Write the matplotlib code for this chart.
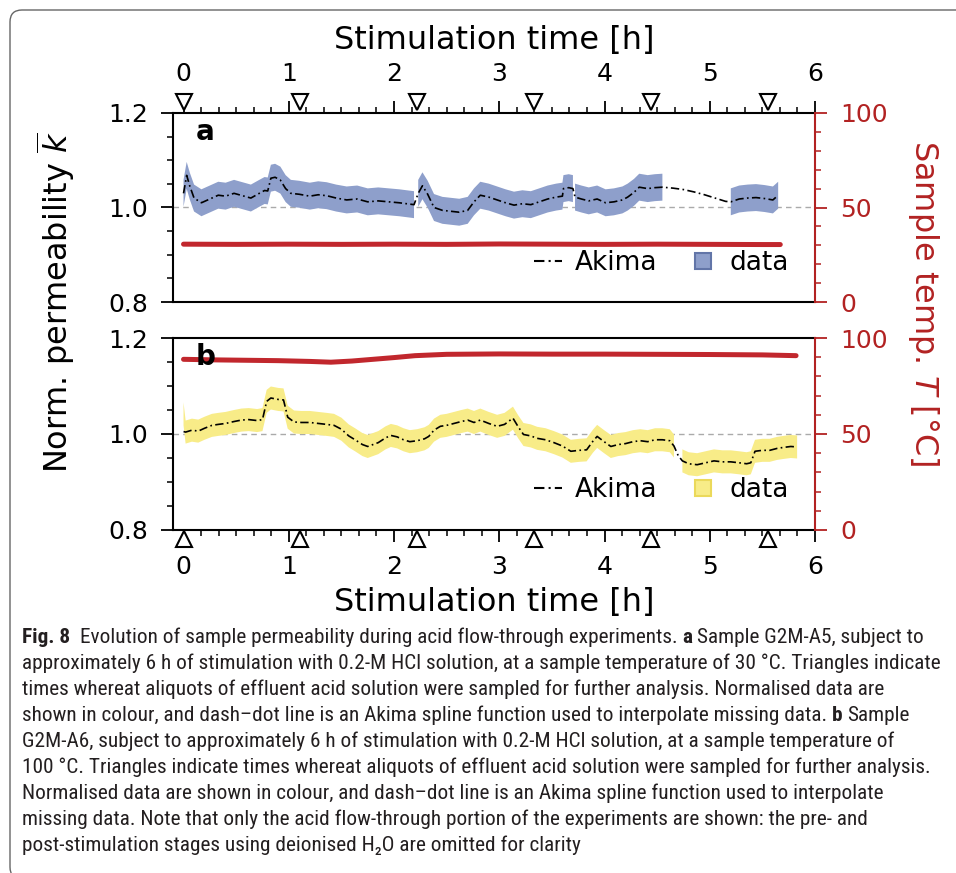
import numpy as np
import matplotlib
matplotlib.use("Agg")
import matplotlib.pyplot as plt
from matplotlib import font_manager
from matplotlib.patches import FancyBboxPatch
from matplotlib.transforms import IdentityTransform, blended_transform_factory
from matplotlib.lines import Line2D
from matplotlib.ticker import MultipleLocator, FormatStrFormatter

nan = np.nan

# --- datos -----------------------------------------------------------------
# panel a (G2M-A5, 30 C)
t_a = [0.00, 0.03, 0.06, 0.10, 0.17, 0.25, 0.33, 0.40, 0.48, 0.56, 0.64, 0.72,
       0.77, 0.80, 0.83, 0.87, 0.92, 0.97, 1.02, 1.10, 1.20, 1.28, 1.36, 1.45,
       1.55, 1.65, 1.75, 1.85, 1.95, 2.05, 2.12, 2.19, 2.21, 2.23, 2.27, 2.32,
       2.38, 2.46, 2.54, 2.62, 2.70, 2.76, 2.82, 2.90, 2.98, 3.06, 3.14, 3.22,
       3.30, 3.38, 3.46, 3.54, 3.60, 3.61, 3.66, 3.70, 3.71, 3.72, 3.78, 3.85,
       3.93, 4.01, 4.09, 4.17, 4.22, 4.28, 4.33, 4.41, 4.48, 4.55, 4.65, 4.75,
       4.85, 4.95, 5.05, 5.15, 5.20, 5.28, 5.36, 5.44, 5.52, 5.60, 5.65]
akima_a = [1.030, 1.068, 1.045, 1.020, 1.010, 1.018, 1.026, 1.024, 1.030, 1.025, 1.020, 1.030,
           1.036, 1.035, 1.062, 1.064, 1.058, 1.040, 1.030, 1.028, 1.024, 1.027, 1.025, 1.020,
           1.016, 1.018, 1.012, 1.014, 1.012, 1.010, 1.008, 1.006, 1.018, 1.030, 1.046, 1.028,
           1.000, 0.994, 0.992, 0.990, 0.994, 1.012, 1.026, 1.022, 1.016, 1.010, 1.005, 1.008,
           1.006, 1.012, 1.018, 1.022, 1.024, 1.040, 1.042, 1.040, 1.031, 1.022, 1.018, 1.014,
           1.018, 1.010, 1.012, 1.016, 1.022, 1.032, 1.043, 1.040, 1.042, 1.043, 1.041, 1.038,
           1.033, 1.027, 1.020, 1.013, 1.012, 1.018, 1.020, 1.021, 1.019, 1.016, 1.026]
data_a = [1.030, 1.068, 1.045, 1.020, 1.010, 1.018, 1.026, 1.024, 1.030, 1.025, 1.020, 1.030,
          1.036, 1.035, 1.062, 1.064, 1.058, 1.040, 1.030, 1.028, 1.024, 1.027, 1.025, 1.020,
          1.016, 1.018, 1.012, 1.014, 1.012, 1.010, 1.008, 1.006, nan, 1.030, 1.046, 1.028,
          1.000, 0.994, 0.992, 0.990, 0.994, 1.012, 1.026, 1.022, 1.016, 1.010, 1.005, 1.008,
          1.006, 1.012, 1.018, 1.022, 1.024, 1.040, 1.042, 1.040, nan, 1.022, 1.018, 1.014,
          1.018, 1.010, 1.012, 1.016, 1.022, 1.032, 1.043, 1.040, 1.042, 1.043, nan, nan,
          nan, nan, nan, nan, 1.012, 1.018, 1.020, 1.021, 1.019, 1.016, 1.026]
temp_t_a = [0.0, 0.5, 1.0, 1.5, 2.0, 2.5, 3.0, 3.5, 4.0, 4.5, 5.0, 5.5, 5.67]
temp_a = [30.6, 30.5, 30.6, 30.5, 30.6, 30.5, 30.7, 30.6, 30.5, 30.6, 30.5, 30.4, 30.4]

# panel b (G2M-A6, ~100 C)
t_b = [0.00, 0.02, 0.08, 0.14, 0.20, 0.27, 0.33, 0.40, 0.48, 0.55, 0.62, 0.70,
       0.75, 0.79, 0.83, 0.90, 0.95, 0.99, 1.05, 1.12, 1.20, 1.28, 1.36, 1.43,
       1.50, 1.57, 1.63, 1.70, 1.75, 1.80, 1.85, 1.92, 1.97, 2.03, 2.09, 2.15,
       2.22, 2.29, 2.33, 2.38, 2.44, 2.50, 2.57, 2.64, 2.70, 2.76, 2.82, 2.90,
       2.98, 3.05, 3.13, 3.18, 3.23, 3.30, 3.36, 3.44, 3.52, 3.60, 3.68, 3.76,
       3.83, 3.89, 3.93, 3.99, 4.06, 4.13, 4.20, 4.27, 4.34, 4.41, 4.48, 4.55,
       4.62, 4.66, 4.70, 4.74, 4.80, 4.88, 4.96, 5.04, 5.12, 5.20, 5.28, 5.35,
       5.39, 5.43, 5.50, 5.57, 5.64, 5.70, 5.77, 5.83]
akima_b = [1.005, 1.004, 1.008, 1.006, 1.012, 1.018, 1.020, 1.022, 1.026, 1.029, 1.030, 1.028,
           1.030, 1.068, 1.075, 1.072, 1.071, 1.035, 1.025, 1.024, 1.024, 1.022, 1.020, 1.018,
           1.010, 0.996, 0.988, 0.978, 0.974, 0.978, 0.982, 0.992, 0.997, 0.994, 0.988, 0.984,
           0.986, 0.990, 0.995, 1.008, 1.016, 1.018, 1.022, 1.026, 1.029, 1.024, 1.029, 1.022,
           1.016, 1.020, 1.033, 1.015, 0.999, 0.996, 0.991, 0.988, 0.982, 0.975, 0.964, 0.966,
           0.967, 0.985, 0.995, 0.985, 0.974, 0.978, 0.980, 0.984, 0.986, 0.984, 0.988, 0.988,
           0.986, 0.975, 0.955, 0.944, 0.938, 0.936, 0.940, 0.944, 0.942, 0.942, 0.940, 0.938,
           0.940, 0.964, 0.966, 0.966, 0.970, 0.972, 0.974, 0.973]
data_b = [1.042, 1.004, 1.008, 1.006, 1.012, 1.018, 1.020, 1.022, 1.026, 1.029, 1.030, 1.028,
          1.030, 1.068, 1.075, 1.072, 1.071, 1.035, 1.025, 1.024, 1.024, 1.022, 1.020, 1.018,
          1.010, 0.996, 0.988, 0.978, 0.974, 0.978, 0.982, 0.992, 0.997, 0.994, 0.988, 0.984,
          0.986, 0.990, 0.995, 1.008, 1.016, 1.018, 1.022, 1.026, 1.029, 1.024, 1.029, 1.022,
          1.016, 1.020, 1.033, 1.015, 0.999, 0.996, 0.991, 0.988, 0.982, 0.975, 0.964, 0.966,
          0.967, 0.985, 0.995, 0.985, 0.974, 0.978, 0.980, 0.984, 0.986, 0.984, 0.988, 0.988,
          0.986, 0.975, nan, 0.944, 0.938, 0.936, 0.940, 0.944, 0.942, 0.942, 0.940, 0.938,
          0.940, 0.964, 0.966, 0.966, 0.970, 0.972, 0.974, 0.973]
temp_t_b = [0.0, 0.3, 0.6, 0.9, 1.2, 1.4, 1.6, 1.8, 2.0, 2.2, 2.5, 3.0, 3.5, 4.0,
            4.5, 5.0, 5.5, 5.82]
temp_b = [88.9, 88.6, 88.4, 88.2, 87.8, 87.4, 88.0, 88.9, 89.8, 90.8, 91.5, 91.7,
          91.6, 91.6, 91.5, 91.4, 91.2, 90.8]

# tiempos de muestreo de alicuotas (triangulos)
aliquots_t = [0.0, 1.11, 2.22, 3.33, 4.44, 5.55]

# --- estilo ------------------------------------------------------------------
W, H = 956, 873
RED_AX = "#B22222"
RED_LN = "#C1272D"
BLUE = "#8E9FCB"
BLUE_EDGE = "#6275A8"
YELLOW = "#F8EC88"
YELLOW_EDGE = "#EBD95A"

plt.rcParams["font.family"] = ["DejaVu Sans"]

fig = plt.figure(figsize=(W / 100, H / 100), dpi=100)


def px_rect(x0, y0, x1, y1):
    return [x0 / W, 1 - y1 / H, (x1 - x0) / W, (y1 - y0) / H]


ax_a = fig.add_axes(px_rect(173, 113, 815, 302))
ax_b = fig.add_axes(px_rect(173, 338, 815, 530))

panels = [
    (ax_a, t_a, akima_a, data_a, temp_t_a, temp_a, BLUE, BLUE_EDGE, 0.0285, "a"),
    (ax_b, t_b, akima_b, data_b, temp_t_b, temp_b, YELLOW, YELLOW_EDGE, 0.024, "b"),
]

for ax, t, ak, dat, tt, tv, col, edge, half, lab in panels:
    t = np.array(t)
    dat = np.array(dat)
    ax.axhline(1.0, color="#AAAAAA", lw=1.0, ls=(0, (4, 3)), zorder=1)
    ax.fill_between(t, dat - half, dat + half, color=col, lw=0, zorder=2)
    ax.plot(t, ak, color="black", lw=1.2, ls=(0, (5, 2, 1, 2)), zorder=3)

    ax.set_xlim(-0.1, 6.0)
    ax.set_ylim(0.8, 1.2)
    ax.set_yticks([0.8, 1.0, 1.2])
    ax.yaxis.set_major_formatter(FormatStrFormatter("%.1f"))
    ax.yaxis.set_minor_locator(MultipleLocator(0.05))
    ax.xaxis.set_major_locator(MultipleLocator(1))
    ax.xaxis.set_minor_locator(MultipleLocator(1 / 6))
    for s in ax.spines.values():
        s.set_linewidth(1.5)
    ax.spines["right"].set_visible(False)
    ax.tick_params(which="major", length=8.5, width=1.3, labelsize=18, pad=9.5)
    ax.tick_params(which="minor", length=4.3, width=1.1)

    handles = [
        Line2D([], [], color="black", lw=1.5, ls=(0, (5, 2, 1, 2))),
        Line2D([], [], marker="s", ls="none", mfc=col, mec=edge, mew=1.5, ms=12),
    ]
    ax.legend(handles, ["Akima", "data"], loc="center right", bbox_to_anchor=(0.96, 0.207),
              ncol=2, frameon=False, fontsize=19, handlelength=1.05, handletextpad=0.5,
              columnspacing=1.2, borderpad=0, borderaxespad=0)

    ax2 = ax.twinx()
    ax2.plot(tt, tv, color=RED_LN, lw=3.6, solid_capstyle="round", zorder=2)
    ax2.set_ylim(0, 100)
    ax2.set_yticks([0, 50, 100])
    ax2.yaxis.set_minor_locator(MultipleLocator(10))
    for side in ["left", "top", "bottom"]:
        ax2.spines[side].set_visible(False)
    ax2.spines["right"].set_color(RED_AX)
    ax2.spines["right"].set_linewidth(1.5)
    ax2.tick_params(axis="y", which="both", colors=RED_AX)
    ax2.tick_params(axis="y", which="major", length=8.5, width=1.3, labelsize=18, pad=9.5)
    ax2.tick_params(axis="y", which="minor", length=4.3, width=1.1)
    ax2.text(0.035, 0.9, lab, transform=ax2.transAxes, fontsize=20, fontweight="bold",
             ha="left", va="center", zorder=10)

# ejes x: arriba en a, abajo en b
ax_a.tick_params(axis="x", which="both", bottom=False, labelbottom=False, top=True,
                 labeltop=True, pad=11)
ax_b.tick_params(axis="x", which="both", bottom=True, labelbottom=True, top=False)
ax_a.set_xlabel("Stimulation time [h]", fontsize=23, labelpad=9)
ax_a.xaxis.set_label_position("top")
ax_b.set_xlabel("Stimulation time [h]", fontsize=23, labelpad=6)

# triangulos de muestreo
tr_a = blended_transform_factory(ax_a.transData, ax_a.transAxes)
ax_a.plot(aliquots_t, [1.056] * len(aliquots_t), ls="none", marker="v", ms=11,
          mfc="white", mec="black", mew=1.5, transform=tr_a, clip_on=False, zorder=5)
tr_b = blended_transform_factory(ax_b.transData, ax_b.transAxes)
ax_b.plot(aliquots_t, [-0.049] * len(aliquots_t), ls="none", marker="^", ms=11,
          mfc="white", mec="black", mew=1.5, transform=tr_b, clip_on=False, zorder=5)

fig.text(56 / W, 1 - 302 / H, r"Norm. permeability $\overline{k}$", rotation=90,
         fontsize=23, ha="center", va="center")
fig.text(923 / W, 1 - 303 / H, r"Sample temp. $T$ [°C]", rotation=270,
         fontsize=23, ha="center", va="center", color=RED_AX)

# marco de la figura
frame = FancyBboxPatch((10, -6), 1000, H - 10 + 6, boxstyle="round,pad=0,rounding_size=12",
                       transform=IdentityTransform(), fill=False, ec="#666666", lw=1.0)
fig.add_artist(frame)

# --- pie de figura -------------------------------------------------------------
names = {f.name for f in font_manager.fontManager.ttflist}
cap_font = next((n for n in ["Liberation Sans Narrow", "DejaVu Sans Condensed",
                             "Roboto Condensed", "Open Sans Condensed", "Liberation Sans"]
                 if n in names), "DejaVu Sans")
cap_family = [cap_font, "DejaVu Sans"]

caption = [
    [("Fig. 8", True), ("Evolution of sample permeability during acid flow-through experiments.", False),
     ("a", True), ("Sample G2M-A5, subject to", False)],
    [("approximately 6 h of stimulation with 0.2-M HCl solution, at a sample temperature of 30 °C. Triangles indicate", False)],
    [("times whereat aliquots of effluent acid solution were sampled for further analysis. Normalised data are", False)],
    [("shown in colour, and dash–dot line is an Akima spline function used to interpolate missing data.", False),
     ("b", True), ("Sample", False)],
    [("G2M-A6, subject to approximately 6 h of stimulation with 0.2-M HCl solution, at a sample temperature of", False)],
    [("100 °C. Triangles indicate times whereat aliquots of effluent acid solution were sampled for further analysis.", False)],
    [("Normalised data are shown in colour, and dash–dot line is an Akima spline function used to interpolate", False)],
    [("missing data. Note that only the acid flow-through portion of the experiments are shown: the pre- and", False)],
    [("post-stimulation stages using deionised H₂O are omitted for clarity", False)],
]

renderer = fig.canvas.get_renderer()


def text_width(s, size, bold):
    tmp = fig.text(0, 0, s, fontsize=size, fontweight="bold" if bold else "normal",
                   family=cap_family, transform=IdentityTransform())
    w = tmp.get_window_extent(renderer).width
    tmp.remove()
    return w


def line_width(runs, size):
    sp = text_width("x x", size, False) - text_width("xx", size, False)
    extra = sp if len(runs) > 1 else 0
    return sum(text_width(s, size, b) for s, b in runs) + sp * (len(runs) - 1) + extra


base = 14
widest = max(line_width(r, base) for r in caption)
cap_size = base * 924 / widest
space = text_width("x x", cap_size, False) - text_width("xx", cap_size, False)

for i, runs in enumerate(caption):
    x = 22
    y = H - (643 + 26 * i)
    for j, (s, b) in enumerate(runs):
        fig.text(x, y, s, fontsize=cap_size, fontweight="bold" if b else "normal",
                 family=cap_family, color="#231F20", transform=IdentityTransform(),
                 ha="left", va="baseline")
        x += text_width(s, cap_size, b) + space * (2 if (i == 0 and j == 0) else 1)

fig.savefig("out.png", dpi=100)
